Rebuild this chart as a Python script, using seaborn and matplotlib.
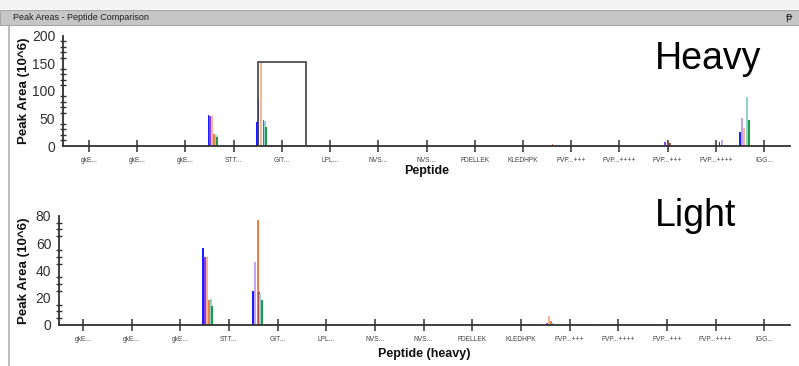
import numpy as np
import pandas as pd
import matplotlib
matplotlib.use("Agg")
import matplotlib.pyplot as plt
from matplotlib.patches import Rectangle
from matplotlib.ticker import MultipleLocator
import seaborn as sns

# ====================== data ======================
peptides = ["gkE...", "gkE...", "gkE...", "STT...", "GIT...", "LPL...", "NVS...", "NVS...",
            "FDELLEK", "KLEDHPK", "FVP...+++", "FVP...++++", "FVP...+++", "FVP...++++", "IGG..."]
replicates = ["R1", "R2", "R3", "R4", "R5", "R6", "R7", "R8"]
rep_colors = ["#1c1cff", "#8b3cf0", "#c6a2f2", "#f2b596", "#e9804a", "#b84848", "#8fd3c9", "#1f9a4a"]

# x position of each peak group on the peptide axis
peak_x = [2.57, 3.58, 9.6, 10.6, 12.01, 13.17, 13.59]

# peak areas (10^6), one row per group, one value per replicate
heavy_areas = [
    [57, 55, 0, 55, 21, 0, 20, 17],
    [43, 85, 0, 151, 0, 47, 46, 35],
    [0, 0, 0, 0, 3, 0, 0, 0],
    [0, 0, 0, 0, 0, 0, 0, 0],
    [0, 8, 0, 0, 0, 6, 0, 0],
    [8, 0, 11, 0, 0, 0, 0, 0],
    [25, 0, 50, 33, 0, 0, 88, 48],
]
light_areas = [
    [56, 50, 0, 50, 18, 0, 19, 14],
    [25, 0, 46, 0, 77, 24, 22.5, 18],
    [0, 1.5, 0, 6.6, 3, 0, 1.5, 0],
    [0, 0, 0, 0, 1, 0, 0, 0],
    [0, 1, 0, 0, 0, 0, 0, 0],
    [0.8, 0, 0, 0, 0, 0, 0, 0],
    [0, 0, 0, 0, 0, 0, 0, 0],
]
selected = 4  # GIT... is selected in the heavy panel


def to_long(areas):
    rows = []
    for x, vals in zip(peak_x, areas):
        for rep, v in zip(replicates, vals):
            rows.append({"pos": x, "replicate": rep, "area": v})
    return pd.DataFrame(rows)


sns.set_style("white")
plt.rcParams["font.family"] = ["Liberation Sans", "DejaVu Sans"]

fig = plt.figure(figsize=(7.99, 3.66), dpi=100)

# window chrome
fig.patches.append(Rectangle((0, 1 - 9 / 366), 1, 9 / 366, transform=fig.transFigure,
                             fc="#f3f3f3", ec="none"))
fig.patches.append(Rectangle((0, 1 - 25 / 366), 1, 15 / 366, transform=fig.transFigure,
                             fc="#c6c6c6", ec="#a8a8a8", lw=0.8))
fig.lines.append(plt.Line2D([9 / 799, 9 / 799], [0, 1 - 25 / 366], transform=fig.transFigure,
                            color="#b0b0b0", lw=1.2))
fig.text(13 / 799, 1 - 17.5 / 366, "Peak Areas - Peptide Comparison", fontsize=6.5,
         va="center", ha="left", color="#202020")
fig.text(789 / 799, 1 - 17.5 / 366, "ᵽ", fontsize=7, va="center", ha="center",
         color="#202020", family=["DejaVu Sans"])

pal = dict(zip(replicates, rep_colors))
ax_top = fig.add_axes([63 / 799, 1 - 146 / 366, 727 / 799, 110.3 / 366])
ax_bot = fig.add_axes([59 / 799, 1 - 325 / 366, 731 / 799, 109.3 / 366])

panels = [
    (ax_top, heavy_areas, 200, 50, 10, (-0.54, 14.54), "Peptide", 0.17),
    (ax_bot, light_areas, 80, 20, 5, (-0.49, 14.53), "Peptide (heavy)", 0.215),
]
for ax, areas, ymax, major, minor, xlim, xlabel, xl_off in panels:
    sns.barplot(data=to_long(areas), x="pos", y="area", hue="replicate",
                hue_order=replicates, palette=pal, native_scale=True, width=0.5,
                errorbar=None, legend=False, saturation=1, linewidth=0, ax=ax)
    # bars overlap a little and are drawn crisp, like the screen render
    for p in ax.patches:
        w = p.get_width()
        p.set_x(p.get_x() - 0.25 * w)
        p.set_width(w * 1.5)
        p.set_antialiased(False)
    ax.set_xlim(*xlim)
    ax.set_ylim(0, ymax)
    ax.set_xticks(range(len(peptides)))
    ax.set_xticklabels(peptides, fontsize=4.8, color="#404040")
    ax.yaxis.set_major_locator(MultipleLocator(major))
    ax.yaxis.set_minor_locator(MultipleLocator(minor))
    ax.tick_params(axis="y", which="major", direction="inout", length=7, width=1.2,
                   labelsize=10, pad=2, colors="#303030")
    ax.tick_params(axis="y", which="minor", direction="inout", length=4, width=1.0,
                   colors="#303030", left=True)
    ax.tick_params(axis="x", which="major", direction="inout", length=8, width=1.1,
                   pad=4, colors="#303030", bottom=True)
    ax.tick_params(axis="x", labelcolor="#404040")
    sns.despine(ax=ax)
    for s in ["left", "bottom"]:
        ax.spines[s].set_color("#303030")
        ax.spines[s].set_linewidth(1.3)
    ax.set_ylabel("Peak Area (10^6)", fontsize=9.6, fontweight="bold", color="#101010")
    ax.set_xlabel(xlabel, fontsize=9, fontweight="bold", color="#101010")
    ax.xaxis.set_label_coords(0.5, -xl_off)
    ax.patch.set_alpha(0)

ax_top.yaxis.set_label_coords(-33 / 727, 0.5)
ax_bot.yaxis.set_label_coords(-29 / 731, 0.5)

# selection box around the chosen peptide
box_h = max(heavy_areas[1]) + 2
ax_top.add_patch(Rectangle((selected - 0.5, 0), 1, box_h, fill=False,
                           ec="#404040", lw=1.2, zorder=5))

fig.text(655 / 799, 1 - 69 / 366, "Heavy", fontsize=27, va="baseline", ha="left", color="black")
fig.text(655 / 799, 1 - 226 / 366, "Light", fontsize=27, va="baseline", ha="left", color="black")

fig.savefig("out.png", dpi=100)
